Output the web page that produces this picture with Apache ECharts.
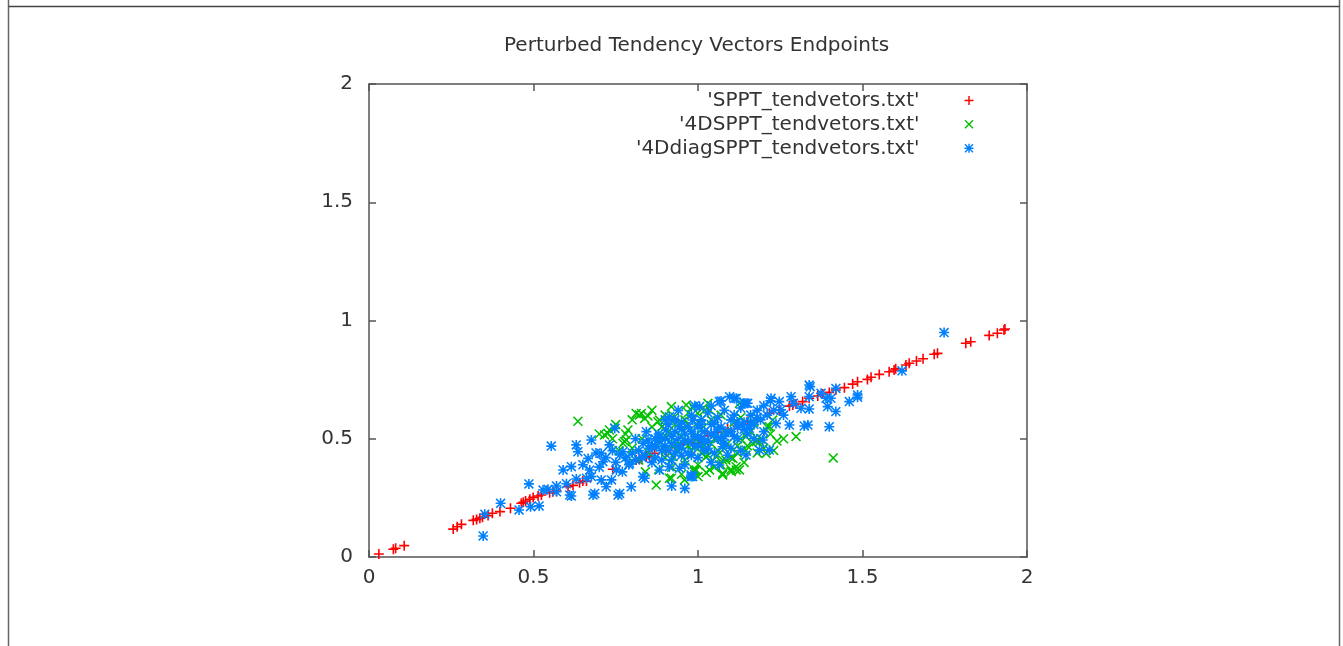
<!DOCTYPE html>
<html>
<head>
<meta charset="utf-8">
<script src="https://cdn.jsdelivr.net/npm/echarts@6/dist/echarts.min.js"></script>
<style>
html,body{margin:0;padding:0;background:#fff;}
#c{width:1343px;height:646px;}
</style>
</head>
<body>
<div id="c"></div>
<script>
var titleText = "Perturbed Tendency Vectors Endpoints";
var seriesNames = ["'SPPT_tendvetors.txt'", "'4DSPPT_tendvetors.txt'", "'4DdiagSPPT_tendvetors.txt'"];
var xTicks = [0, 0.5, 1, 1.5, 2];
var yTicks = [0, 0.5, 1, 1.5, 2];

var spptPoints = [
[0.03,0.013],[0.074,0.033],[0.081,0.037],[0.107,0.048],[0.256,0.118],[0.268,0.128],[0.281,0.138],[0.317,0.155],
[0.327,0.159],[0.337,0.164],[0.345,0.168],[0.362,0.175],[0.375,0.185],[0.398,0.192],[0.43,0.206],[0.463,0.227],
[0.469,0.231],[0.476,0.237],[0.489,0.244],[0.499,0.252],[0.514,0.258],[0.524,0.262],[0.549,0.272],[0.559,0.276],
[0.570,0.279],[0.605,0.297],[0.620,0.303],[0.640,0.314],[0.650,0.321],[0.661,0.321],[0.741,0.371],[0.812,0.41],
[0.822,0.417],[0.828,0.413],[0.843,0.424],[0.853,0.422],[0.868,0.438],[0.903,0.445],[0.93,0.462],[0.955,0.476],
[0.984,0.481],[1.005,0.495],[1.03,0.512],[1.06,0.528],[1.09,0.541],[1.12,0.556],[1.15,0.573],[1.18,0.589],
[1.217,0.608],[1.247,0.622],[1.278,0.638],[1.288,0.643],[1.298,0.647],[1.318,0.657],[1.338,0.671],[1.364,0.681],
[1.379,0.689],[1.399,0.696],[1.419,0.706],[1.445,0.716],[1.470,0.731],[1.485,0.741],[1.515,0.751],[1.526,0.760],
[1.551,0.772],[1.581,0.783],[1.596,0.791],[1.601,0.796],[1.632,0.812],[1.642,0.819],[1.664,0.829],[1.684,0.838],
[1.718,0.857],[1.728,0.861],[1.814,0.904],[1.829,0.91],[1.885,0.937],[1.910,0.946],[1.930,0.96],[1.933,0.964]
];

var fourDPoints = [
[0.635,0.574],[1.411,0.419],
[0.716,0.516],[0.726,0.523],[0.731,0.537],[0.747,0.544],[0.787,0.537],[0.782,0.495],[0.772,0.481],[0.777,0.488],
[0.822,0.600],[0.838,0.586],[0.828,0.607],[0.812,0.607],[0.848,0.596],[0.878,0.572],[0.883,0.579],[0.919,0.636],
[0.964,0.643],[0.929,0.593],[0.999,0.608],[1.03,0.65],[1.035,0.622],[0.984,0.636],[1.126,0.65],[0.873,0.304],
[0.919,0.333],[0.959,0.326],[0.913,0.333],[0.903,0.452],[0.924,0.424],[0.787,0.424],[0.989,0.368],[1.025,0.424],
[0.989,0.361],[1.025,0.357],[1.075,0.347],[1.101,0.361],[1.116,0.368],[1.146,0.452],[1.166,0.481],[1.187,0.488],
[1.298,0.509],[1.005,0.466],[1.025,0.452],[1.055,0.424],[1.085,0.41],[1.106,0.417],[0.924,0.466],[0.944,0.481],
[0.903,0.509],[1.075,0.41],[1.116,0.382],[1.126,0.368],[1.075,0.354],[1.035,0.368],[0.994,0.368],[1.207,0.438],
[1.177,0.488],[1.146,0.509],[1.217,0.551],[1.227,0.579],
[0.8,0.46],[0.83,0.5],[0.85,0.44],[0.86,0.55],[0.88,0.48],[0.9,0.42],[0.91,0.53],[0.92,0.38],[0.93,0.56],
[0.94,0.45],[0.95,0.51],[0.96,0.41],[0.97,0.56],[0.98,0.45],[0.99,0.5],[1.0,0.39],[1.01,0.54],[1.02,0.47],
[1.03,0.43],[1.04,0.58],[1.05,0.5],[1.06,0.45],[1.07,0.39],[1.08,0.53],[1.09,0.48],[1.1,0.42],[1.11,0.57],
[1.12,0.44],[1.13,0.5],[1.14,0.4],[1.15,0.47],[1.16,0.53],[1.18,0.44],[1.19,0.5],[1.2,0.46],[1.22,0.52],
[1.24,0.49],[0.78,0.52],[0.76,0.45],[0.74,0.5],[0.82,0.41],[0.84,0.36],[0.88,0.37],[0.95,0.35],[1.0,0.34],
[1.05,0.38],[1.1,0.37],[0.97,0.61],[1.02,0.62],[0.9,0.6],[0.86,0.62],[1.07,0.6],[1.13,0.59],[1.17,0.57],
[1.21,0.55],[0.93,0.49],[0.97,0.47],[1.01,0.44],[1.04,0.48],[1.08,0.46],[1.12,0.47],[0.89,0.55],[0.96,0.58],
[1.0,0.57],[0.8,0.58],[0.75,0.56],[0.7,0.52],[1.23,0.45],[1.26,0.5]
];

var fourDdiagPoints = [
[0.347,0.089],[0.352,0.181],[0.4,0.227],[0.456,0.199],[0.491,0.213],[0.517,0.216],[0.486,0.309],[0.529,0.283],
[0.544,0.286],[0.570,0.276],[0.61,0.262],[0.554,0.469],[0.59,0.368],[0.615,0.382],[0.63,0.474],[0.635,0.445],
[0.676,0.495],[0.747,0.544],[0.666,0.417],[0.671,0.368],[0.661,0.333],[0.676,0.34],[0.706,0.438],[0.711,0.403],
[0.731,0.474],[0.762,0.431],[0.772,0.445],[0.792,0.396],[0.752,0.368],[0.737,0.326],[0.762,0.269],[0.721,0.297],
[0.706,0.326],[0.797,0.297],[0.686,0.269],[0.615,0.258],[0.681,0.262],[0.757,0.262],[0.843,0.53],[0.848,0.495],
[0.833,0.481],[0.838,0.333],[0.833,0.34],[0.883,0.368],[0.913,0.382],[0.944,0.375],[0.873,0.466],[0.883,0.509],
[0.903,0.537],[0.913,0.593],[0.944,0.551],[0.984,0.579],[1.005,0.636],[0.979,0.34],[0.979,0.347],
[1.096,0.678],[1.116,0.671],[1.146,0.65],[1.065,0.657],[1.151,0.65],[1.222,0.671],[1.247,0.657],[1.283,0.678],
[1.252,0.622],[1.338,0.727],[1.341,0.72],[1.338,0.678],[1.374,0.692],[1.404,0.671],[1.389,0.671],[1.394,0.636],
[1.419,0.615],[1.419,0.713],[1.46,0.657],[1.485,0.685],[1.485,0.675],[1.313,0.629],[1.338,0.626],[1.278,0.558],
[1.334,0.558],[1.323,0.554],[1.399,0.551],[1.237,0.565],[1.136,0.558],[1.156,0.544],[1.197,0.495],[1.217,0.452],
[1.187,0.452],[1.146,0.431],[1.075,0.466],[1.065,0.389],[0.984,0.34],[1.62,0.787],[1.748,0.949],
[0.86,0.47],[0.88,0.52],[0.89,0.45],[0.9,0.5],[0.91,0.56],[0.92,0.48],[0.93,0.53],[0.93,0.44],[0.94,0.5],
[0.95,0.57],[0.95,0.46],[0.96,0.52],[0.97,0.49],[0.97,0.55],[0.98,0.43],[0.98,0.6],[0.99,0.51],[1.0,0.47],
[1.0,0.55],[1.01,0.58],[1.01,0.5],[1.02,0.45],[1.02,0.53],[1.03,0.61],[1.03,0.49],[1.04,0.56],[1.05,0.52],
[1.05,0.44],[1.06,0.59],[1.06,0.5],[1.07,0.55],[1.08,0.62],[1.08,0.48],[1.09,0.53],[1.1,0.58],[1.1,0.46],
[1.11,0.6],[1.12,0.55],[1.12,0.5],[1.13,0.63],[1.14,0.57],[1.15,0.52],[1.16,0.6],[1.17,0.56],[1.18,0.62],
[1.19,0.58],[1.2,0.64],[1.21,0.6],[1.22,0.66],[1.23,0.62],[0.92,0.41],[0.96,0.39],[1.0,0.42],[1.04,0.4],
[0.87,0.42],[0.9,0.58],[0.94,0.62],[0.99,0.64],[1.04,0.64],[1.07,0.66],[1.11,0.67],[1.14,0.65],
[0.78,0.42],[0.8,0.44],[0.79,0.39],[0.82,0.45],[0.84,0.43],[0.81,0.5],[0.72,0.42],[0.74,0.45],[0.69,0.44],
[0.65,0.39],[0.63,0.33],[0.6,0.31],[0.57,0.3],[0.7,0.38],[0.75,0.4],[0.77,0.36],[0.96,0.29],[0.92,0.3],
[0.86,0.4],[0.89,0.41],[0.95,0.43],[1.09,0.43],[1.13,0.45],[1.17,0.5],[1.2,0.53],[1.26,0.6],[1.29,0.65],
[0.9,0.47],[0.92,0.51],[0.94,0.47],[0.96,0.49],[0.98,0.53],[1.0,0.51],[1.02,0.49],[1.04,0.52],[1.06,0.54],
[1.08,0.51],[1.1,0.53],[1.12,0.57],[0.95,0.54],[0.99,0.47],[1.03,0.46],[1.07,0.5],[0.91,0.45],[0.97,0.44],
[1.01,0.56],[1.05,0.57],[0.93,0.58],[0.88,0.49],[0.85,0.46],[0.87,0.5],[1.11,0.51],[1.14,0.54],[1.16,0.57],
[1.18,0.59],[0.83,0.42],[0.81,0.41]
];

var PLUS = 'path://M0,4.2h10v1.6h-10z M4.2,0h1.6v10h-1.6z';
var CROSS = 'path://M0,1.1L1.1,0L10,8.9L8.9,10Z M8.9,0L10,1.1L1.1,10L0,8.9Z';
var STAR = 'path://M0,4.2h10v1.6h-10z M4.2,0h1.6v10h-1.6z M0,1.1L1.1,0L10,8.9L8.9,10Z M8.9,0L10,1.1L1.1,10L0,8.9Z';
var colors = ['#ff0000', '#00c000', '#0080ff'];
var icons = [PLUS, CROSS, STAR];
var dataSets = [spptPoints, fourDPoints, fourDdiagPoints];

var FONT = 'DejaVu Sans';
var AX = '#555555';
var chart = echarts.init(document.getElementById('c'), null, {renderer: 'canvas'});

function mkAxis(pos, showLabel, ticks) {
  return {
    type: 'value', position: pos, min: ticks[0], max: ticks[ticks.length - 1],
    interval: ticks[1] - ticks[0],
    axisLine: {show: true, onZero: false, lineStyle: {color: AX, width: 1.5}},
    axisTick: {show: true, inside: true, length: 7, lineStyle: {color: AX, width: 1.5}},
    splitLine: {show: false},
    axisLabel: {show: showLabel, color: '#333', fontSize: 20, fontFamily: FONT,
      margin: (pos === 'bottom' ? 11 : 16)}
  };
}

var legends = [];
var rowY = [100.5, 124.3, 148.3];
for (var i = 0; i < 3; i++) {
  legends.push({
    data: [{name: seriesNames[i], icon: icons[i]}],
    right: 369.5, top: rowY[i] - 10, padding: 0, align: 'right',
    itemWidth: 9, itemHeight: 9, selectedMode: false,
    textStyle: {fontSize: 20, color: '#333', fontFamily: FONT, padding: [0, 40, 0, 0]}
  });
}

var series = [];
for (var j = 0; j < 3; j++) {
  series.push({
    name: seriesNames[j], type: 'scatter', data: dataSets[j],
    symbol: icons[j], symbolSize: 10,
    itemStyle: {color: colors[j], borderWidth: 0, opacity: 1},
    xAxisIndex: 0, yAxisIndex: 0, animation: false, silent: true
  });
}

chart.setOption({
  animation: false,
  backgroundColor: '#ffffff',
  title: {
    text: titleText, left: 504, top: 36, padding: 0,
    textStyle: {fontSize: 20, fontWeight: 'normal', color: '#333', fontFamily: FONT}
  },
  legend: legends,
  grid: {left: 369, right: 316, top: 84, bottom: 89, containLabel: false},
  xAxis: [mkAxis('bottom', true, xTicks), mkAxis('top', false, xTicks)],
  yAxis: [mkAxis('left', true, yTicks), mkAxis('right', false, yTicks)],
  series: series,
  graphic: [
    {type: 'line', shape: {x1: 8.5, y1: 0, x2: 8.5, y2: 646}, style: {stroke: '#666', lineWidth: 1.5}, silent: true},
    {type: 'line', shape: {x1: 1339.5, y1: 0, x2: 1339.5, y2: 646}, style: {stroke: '#666', lineWidth: 1.5}, silent: true},
    {type: 'line', shape: {x1: 8.5, y1: 6.5, x2: 1339.5, y2: 6.5}, style: {stroke: '#444', lineWidth: 1.5}, silent: true}
  ]
});
</script>
</body>
</html>
